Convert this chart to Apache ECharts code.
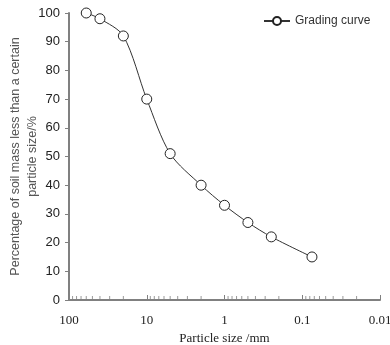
<!DOCTYPE html>
<html>
<head>
<meta charset="utf-8">
<script src="https://cdn.jsdelivr.net/npm/echarts@6/dist/echarts.min.js"></script>
<style>
  html, body { margin: 0; padding: 0; background: #fff; }
  #main { width: 390px; height: 345px; }
</style>
</head>
<body>
<div id="main"></div>
<script>
// particle size (mm) and passing percentage
const sizes = [60, 40, 20, 10, 5, 2, 1, 0.5, 0.25, 0.075];
const passing = [100, 98, 92, 70, 51, 40, 33, 27, 22, 15];
const decades = [10, 1, 0.1, 0.01];
const minorSteps = [2, 3, 4, 5, 6, 7, 8, 9];

// minor ticks on the log axis (2..9 within each decade)
const minorTicks = [];
decades.forEach(d => minorSteps.forEach(m => minorTicks.push([d * m, 0])));

const chart = echarts.init(document.getElementById('main'));

const axisGray = '#808080';

chart.setOption({
  animation: false,
  grid: { left: 69, right: 10, top: 13, bottom: 45, outerBoundsMode: 'none', containLabel: false },
  legend: {
    data: ['Grading curve'],
    left: 258,
    top: 10,
    itemWidth: 26,
    itemHeight: 10,
    itemGap: 6,
    textStyle: { fontFamily: 'Liberation Sans', fontSize: 12, color: '#333' }
  },
  xAxis: {
    type: 'log',
    logBase: 10,
    min: 0.01,
    max: 100,
    inverse: true,
    name: 'Particle size /mm',
    nameLocation: 'middle',
    nameGap: 32,
    nameMoveOverlap: false,
    nameTextStyle: { fontFamily: 'Liberation Serif', fontSize: 13, color: '#222' },
    axisLine: { onZero: false, lineStyle: { color: axisGray, width: 2 } },
    axisTick: { inside: true, length: 5, lineStyle: { color: axisGray, width: 1 } },
    axisLabel: {
      margin: 14,
      fontFamily: 'Liberation Serif', fontSize: 13, color: '#222',
      formatter: v => String(+v.toPrecision(3))
    },
    splitLine: { show: false }
  },
  yAxis: {
    type: 'value',
    min: 0,
    max: 100,
    interval: 10,
    name: 'Percentage of soil mass less than a certain\nparticle size/%',
    nameLocation: 'middle',
    nameGap: 28,
    nameMoveOverlap: false,
    nameTextStyle: { fontFamily: 'Liberation Sans', fontSize: 12.5, color: '#555', lineHeight: 17, align: 'center' },
    axisLine: { show: true, lineStyle: { color: axisGray, width: 2 } },
    axisTick: { show: true, length: 4, lineStyle: { color: axisGray } },
    axisLabel: { margin: 9, fontFamily: 'Liberation Sans', fontSize: 13, color: '#222' },
    splitLine: { show: false }
  },
  series: [
    {
      name: 'Grading curve',
      type: 'line',
      data: sizes.map((s, i) => [s, passing[i]]),
      smooth: 0.3,
      symbol: 'circle',
      symbolSize: 10,
      itemStyle: { color: '#fff', borderColor: '#222', borderWidth: 1 },
      lineStyle: { color: '#333', width: 1 },
      z: 3
    },
    {
      name: 'minor',
      type: 'scatter',
      data: minorTicks,
      symbol: 'rect',
      symbolSize: [1, 3],
      symbolOffset: [0, -2.5],
      itemStyle: { color: axisGray },
      silent: true,
      clip: false,
      z: 1
    }
  ]
});
</script>
</body>
</html>
